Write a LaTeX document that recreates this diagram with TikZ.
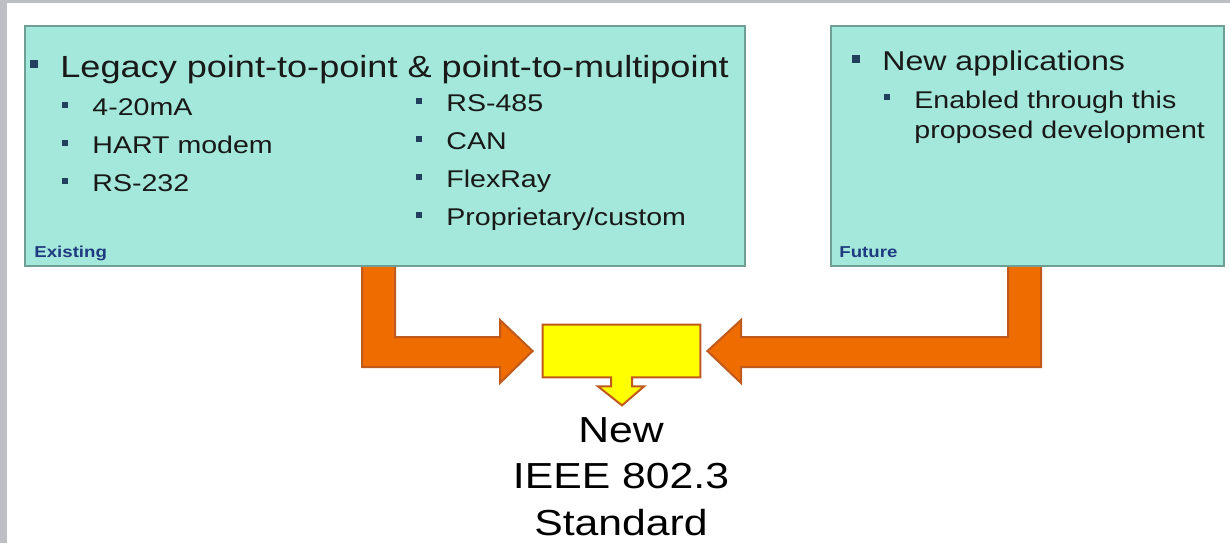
\documentclass[tikz,border=0pt]{standalone}
\usepackage{fontspec}
\setmainfont{Liberation Sans}[FakeStretch=1.18]
\usetikzlibrary{calc,positioning}
\definecolor{boxfill}{HTML}{A3E8DA}
\definecolor{boxline}{HTML}{6E9F95}
\definecolor{arrowfill}{HTML}{EE6C00}
\definecolor{arrowline}{HTML}{C05A1C}
\definecolor{stdfill}{HTML}{FFFF00}
\definecolor{bulletcol}{HTML}{22405E}
\definecolor{tagcol}{HTML}{1F3A80}
\definecolor{framegrey}{HTML}{BCC0C5}
\tikzset{
  infobox/.style={draw=boxline, fill=boxfill, line width=1.3pt, inner sep=0pt},
  bigarrow/.style={draw=arrowline, fill=arrowfill, line width=1pt},
  calloutbox/.style={draw=arrowline, fill=stdfill, line width=1pt},
  headtext/.style={anchor=base west, inner sep=0pt, text=black!90, font=\fontsize{15.3}{18}\selectfont},
  subhead/.style={anchor=base west, inner sep=0pt, text=black!90, font=\fontsize{13.6}{16}\selectfont},
  itemtext/.style={anchor=base west, inner sep=0pt, text=black!90, font=\fontsize{12.1}{15}\selectfont},
  tagtext/.style={anchor=base west, inner sep=0pt, text=tagcol, font=\bfseries\fontsize{7.9}{9}\selectfont},
  bigtext/.style={inner sep=0pt, text=black, align=center, font=\fontsize{18.1}{23.25}\selectfont},
  bigsq/.style={fill=bulletcol, minimum size=4pt, inner sep=0pt},
  smallsq/.style={fill=bulletcol, minimum size=3pt, inner sep=0pt},
}
\begin{document}
\begin{tikzpicture}[x=0.5pt, y=-0.5pt]
  \useasboundingbox (0,0) rectangle (1230,543);
  \fill[white] (0,0) rectangle (1230,543);
  \fill[framegrey] (0,0) rectangle (7,543);
  \fill[framegrey] (0,0) rectangle (1230,3);

  % target of both arrows
  \node[minimum width=78.5pt, minimum height=26pt, inner sep=0pt] (std) at (621.5,351) {};
  \coordinate (lefttip) at ($(std.west)+(-10,0)$);
  \coordinate (righttip) at ($(std.east)+(7,0)$);

  % orange block arrows
  \draw[bigarrow] (362,262) -- (362,367) -- (500,367) -- (500,383) -- (lefttip) -- (500,320) -- (500,337) -- (395,337) -- (395,262) -- cycle;
  \draw[bigarrow] (1041,262) -- (1041,367) -- (741,367) -- (741,383) -- (righttip) -- (741,320) -- (741,337) -- (1008,337) -- (1008,262) -- cycle;

  % yellow callout
  \draw[calloutbox] (std.north west) -- (std.north east) -- (std.south east) -- ($(std.south)+(10.5,0)$) -- ($(std.south)+(10.5,9)$) -- ($(std.south)+(22.5,9)$) -- ($(std.south)+(0.5,28)$) -- ($(std.south)+(-23.5,9)$) -- ($(std.south)+(-10.5,9)$) -- ($(std.south)+(-10.5,0)$) -- (std.south west) -- cycle;

  % boxes
  \node[infobox, minimum width=360pt, minimum height=120pt] (existing) at (385,146) {};
  \node[infobox, minimum width=196.5pt, minimum height=120pt] (future) at (1027.5,146) {};

  % existing
  \node[headtext] (legacy) at (60,77) {Legacy point-to-point \& point-to-multipoint};
  \node[bigsq] at ($(legacy.base west)+(-26,-13)$) {};
  \node[itemtext] (ma) at (92,115) {4-20mA};
  \node[smallsq] at ($(ma.base west)+(-27,-10)$) {};
  \node[itemtext] (hart) at (92,153) {HART modem};
  \node[smallsq] at ($(hart.base west)+(-27,-10)$) {};
  \node[itemtext] (rsa) at (92,191) {RS-232};
  \node[smallsq] at ($(rsa.base west)+(-27,-10)$) {};
  \node[itemtext] (rsb) at (446,111) {RS-485};
  \node[smallsq] at ($(rsb.base west)+(-27,-10)$) {};
  \node[itemtext] (can) at (446,149) {CAN};
  \node[smallsq] at ($(can.base west)+(-27,-10)$) {};
  \node[itemtext] (flex) at (446,187) {FlexRay};
  \node[smallsq] at ($(flex.base west)+(-27,-10)$) {};
  \node[itemtext] (prop) at (446,225) {Proprietary/custom};
  \node[smallsq] at ($(prop.base west)+(-27,-10)$) {};
  \node[tagtext] (extag) at (34,257) {Existing};

  % future
  \node[subhead] (newapp) at (882,70) {New applications};
  \node[bigsq] at ($(newapp.base west)+(-26,-11)$) {};
  \node[itemtext] (enab) at (914,108) {Enabled through this};
  \node[smallsq] at ($(enab.base west)+(-27,-11)$) {};
  \node[itemtext] (devel) at (914,138) {proposed development};
  \node[tagtext] (futag) at (839,257) {Future};

  % result (base = last line)
  \node[bigtext, anchor=base] (newstd) at (621,535) {New\\IEEE 802.3\\Standard};
\end{tikzpicture}
\end{document}
